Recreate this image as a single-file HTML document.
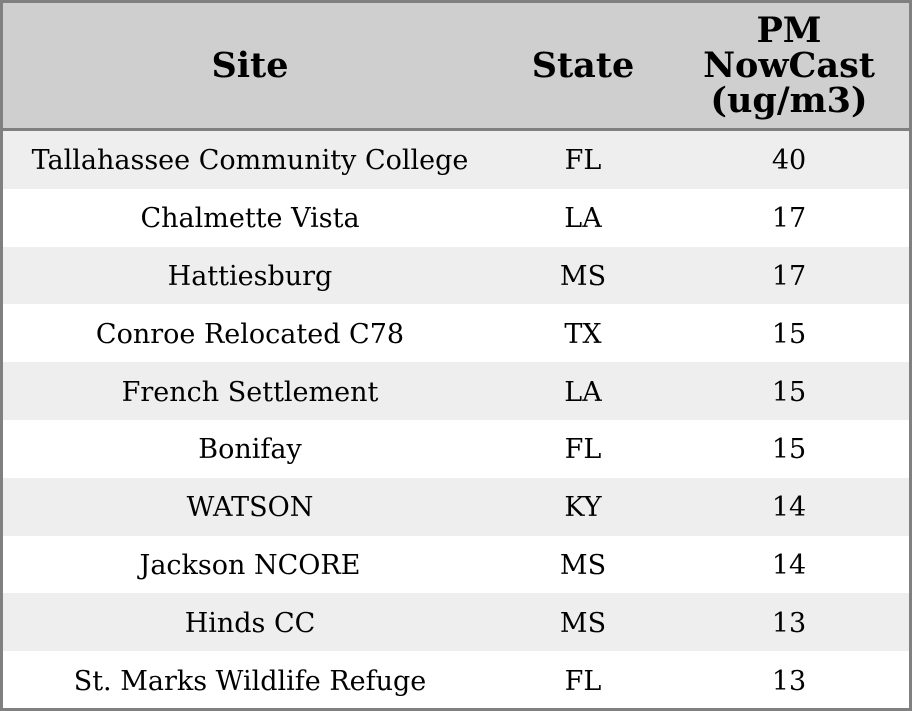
<!DOCTYPE html>
<html><head><style>
html,body{margin:0;padding:0;background:#fff;}
.wrap{position:absolute;left:0;top:0;width:906px;height:705px;border:3px solid #808080;overflow:hidden;font-family:"DejaVu Serif","Liberation Serif",serif;}
.hdr{position:absolute;left:0;top:0;width:906px;height:125px;background:#cfcfcf;border-bottom:3px solid #808080;}
.row{position:absolute;left:0;width:906px;height:57.8px;}
.c{position:absolute;top:0;height:100%;display:flex;align-items:center;justify-content:center;text-align:center;white-space:nowrap;}
.c1{left:0;width:494px}.c2{left:494px;width:172px}.c3{left:666px;width:240px}
.hdr .c{font-weight:bold;font-size:35px;line-height:35px;}
.row .c{font-size:27px;padding-top:2px;box-sizing:border-box;}
</style></head><body>
<div class="wrap">
<div class="hdr"><div class="c c1">Site</div><div class="c c2">State</div><div class="c c3">PM<br>NowCast<br>(ug/m3)</div></div>
<div class="row" style="top:128px;background:#eeeeee"><div class="c c1">Tallahassee Community College</div><div class="c c2">FL</div><div class="c c3">40</div></div>
<div class="row" style="top:185.8px;"><div class="c c1">Chalmette Vista</div><div class="c c2">LA</div><div class="c c3">17</div></div>
<div class="row" style="top:243.6px;background:#eeeeee"><div class="c c1">Hattiesburg</div><div class="c c2">MS</div><div class="c c3">17</div></div>
<div class="row" style="top:301.4px;"><div class="c c1">Conroe Relocated C78</div><div class="c c2">TX</div><div class="c c3">15</div></div>
<div class="row" style="top:359.2px;background:#eeeeee"><div class="c c1">French Settlement</div><div class="c c2">LA</div><div class="c c3">15</div></div>
<div class="row" style="top:417px;"><div class="c c1">Bonifay</div><div class="c c2">FL</div><div class="c c3">15</div></div>
<div class="row" style="top:474.8px;background:#eeeeee"><div class="c c1">WATSON</div><div class="c c2">KY</div><div class="c c3">14</div></div>
<div class="row" style="top:532.6px;"><div class="c c1">Jackson NCORE</div><div class="c c2">MS</div><div class="c c3">14</div></div>
<div class="row" style="top:590.4px;background:#eeeeee"><div class="c c1">Hinds CC</div><div class="c c2">MS</div><div class="c c3">13</div></div>
<div class="row" style="top:648.2px;"><div class="c c1">St. Marks Wildlife Refuge</div><div class="c c2">FL</div><div class="c c3">13</div></div>
</div>
</body></html>
